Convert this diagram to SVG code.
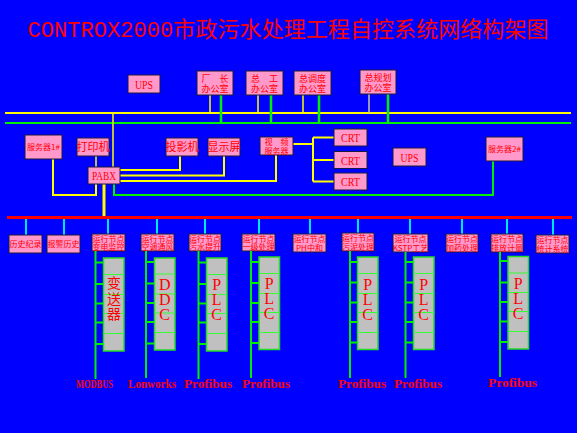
<svg xmlns="http://www.w3.org/2000/svg" width="577" height="433" viewBox="0 0 577 433">
<style>
.box{fill:#FF99CC;stroke:#1a1a40;stroke-width:1}
.gray{fill:#C0C0C0;stroke:#22DD22;stroke-width:1.5}
.inner{stroke:#33FF33;stroke-width:1}
.t{fill:#FF0000;font-family:"Noto Sans CJK SC","Liberation Sans",sans-serif;text-anchor:middle}
.s8{font-size:8px}
.s9{font-size:9px}
.s11{font-size:11px}
.lat{fill:#FF0000;font-family:"Liberation Serif","Noto Sans CJK SC",serif;text-anchor:middle;font-size:13px}
.big{fill:#FF0000;font-family:"Liberation Serif",serif;font-size:16px;writing-mode:vertical-rl;text-orientation:upright;letter-spacing:-2px}
.bigc{fill:#FF0000;font-family:"Noto Sans CJK SC",sans-serif;font-size:14px;writing-mode:vertical-rl;letter-spacing:1.5px}
.bus{fill:#FF0000;font-family:"Liberation Serif",serif;font-weight:bold;font-size:13px}
.y{stroke:#FFFF00;stroke-width:2;fill:none}
.yt{stroke:#FFFF00;stroke-width:1.5;fill:none}
.g{stroke:#00EE00;stroke-width:2;fill:none}
.c{stroke:#00E5FF;stroke-width:2;fill:none}
.r{stroke:#FF0000;stroke-width:3;fill:none}
</style>
<rect x="0" y="0" width="577" height="433" fill="#0000FF"/>
<text id="title" x="288" y="37" textLength="521" lengthAdjust="spacing" style="fill:#FF0000;font-family:'Liberation Mono','Noto Sans CJK SC',monospace;font-size:22px;text-anchor:middle">CONTROX2000市政污水处理工程自控系统网络构架图</text>

<g id="connectors">
  <path class="y" d="M5,113 H571"/>
  <path class="g" d="M5,123 H571"/>
  <path class="yt" d="M210,95 V113 M258,95 V113 M303,95 V113"/>
  <path d="M369,94 V113" stroke="#C8C8A0" stroke-width="1.5"/>
  <path class="g" d="M221,95 V123 M271,95 V123 M319,95 V123 M388,94 V123" style="stroke-width:2.5"/>
  <path class="yt" d="M113,113 V167"/>
  <path class="yt" d="M96,156 V167"/>
  <path class="y" d="M53,159 V195 H96 V184"/>
  <path class="y" d="M104,184 V217" style="stroke-width:3"/>
  <path class="y" d="M120,170 H180 V156"/>
  <path class="y" d="M120,175.5 H224 V156"/>
  <path class="y" d="M120,181 H276 V155"/>
  <path class="y" d="M293,144 H313 M313,137.5 V181.5 M313,137.5 H334 M313,160 H334 M313,181.5 H334"/>
  <path class="g" d="M114,184 V195 H493 V161"/>
  <path class="r" d="M7,217.5 H572"/>
  <path class="c" d="M26,219 V235 M64,219 V235 M108,219 V234 M157,219 V234 M205,219 V234 M259,219 V234 M310,219 V234 M358,219 V233 M410,219 V234 M462,219 V234 M507,219 V234 M553,219 V235"/>
</g>

<g id="ups1"><rect class="box" x="128" y="75" width="32" height="18"/><text class="lat" x="144" y="88.5" textLength="18" lengthAdjust="spacingAndGlyphs">UPS</text></g>
<g id="office1"><rect class="box" x="197" y="71" width="36" height="24"/><text class="t s9" x="215" y="81.5">厂　长<tspan x="215" dy="10">办公室</tspan></text></g>
<g id="office2"><rect class="box" x="246" y="71" width="37" height="24"/><text class="t s9" x="264.5" y="81.5">总　工<tspan x="264.5" dy="10">办公室</tspan></text></g>
<g id="office3"><rect class="box" x="294" y="71" width="37" height="24"/><text class="t s9" x="312.5" y="81.5">总调度<tspan x="312.5" dy="10">办公室</tspan></text></g>
<g id="office4"><rect class="box" x="360" y="70" width="36" height="24"/><text class="t s9" x="378" y="80.5">总规划<tspan x="378" dy="10">办公室</tspan></text></g>

<g id="server1"><rect class="box" x="25" y="135" width="37" height="24"/><text class="t s8" x="43.5" y="150">服务器1#</text></g>
<g id="printer"><rect class="box" x="77" y="138" width="32" height="18"/><text class="t s11" x="93" y="151">打印机</text></g>
<g id="pabx"><rect class="box" x="88" y="167" width="32" height="17"/><text class="lat" x="104" y="180" textLength="24" lengthAdjust="spacingAndGlyphs">PABX</text></g>
<g id="projector"><rect class="box" x="166" y="138" width="32" height="18"/><text class="t s11" x="182" y="151">投影机</text></g>
<g id="screen"><rect class="box" x="208" y="138" width="32" height="18"/><text class="t s11" x="224" y="151">显示屏</text></g>
<g id="video"><rect class="box" x="260" y="137" width="33" height="18"/><text class="t s8" x="276.5" y="145">视　频<tspan x="276.5" dy="8.5">服务器</tspan></text></g>
<g id="crt1"><rect class="box" x="334" y="129" width="33" height="17"/><text class="lat" x="350.5" y="142" textLength="19" lengthAdjust="spacingAndGlyphs">CRT</text></g>
<g id="crt2"><rect class="box" x="334" y="151.5" width="33" height="17"/><text class="lat" x="350.5" y="164.5" textLength="19" lengthAdjust="spacingAndGlyphs">CRT</text></g>
<g id="crt3"><rect class="box" x="334" y="173" width="33" height="17"/><text class="lat" x="350.5" y="186" textLength="19" lengthAdjust="spacingAndGlyphs">CRT</text></g>
<g id="ups2"><rect class="box" x="393" y="148" width="33" height="18"/><text class="lat" x="409.5" y="161.5" textLength="18" lengthAdjust="spacingAndGlyphs">UPS</text></g>
<g id="server2"><rect class="box" x="486" y="137" width="37" height="24"/><text class="t s8" x="504.5" y="152">服务器2#</text></g>

<g id="hist"><rect class="box" x="9" y="235" width="33" height="18"/><text class="t s8" x="25.5" y="247">历史纪录</text></g>
<g id="alarm"><rect class="box" x="47" y="235" width="33" height="18"/><text class="t s8" x="63.5" y="247">报警历史</text></g>
<g id="n1"><rect class="box" x="92" y="234" width="33" height="17"/><text class="t s8" x="108.5" y="242">运行节点<tspan x="108.5" dy="8">变电监控</tspan></text></g>
<g id="n2"><rect class="box" x="141" y="234" width="33" height="17"/><text class="t s8" x="157.5" y="242">运行节点<tspan x="157.5" dy="8">空调通风</tspan></text></g>
<g id="n3"><rect class="box" x="189" y="234" width="32" height="17"/><text class="t s8" x="205" y="242">运行节点<tspan x="205" dy="8">污水提升</tspan></text></g>
<g id="n4"><rect class="box" x="242" y="234" width="33" height="17"/><text class="t s8" x="258.5" y="242">运行节点<tspan x="258.5" dy="8">一级处理</tspan></text></g>
<g id="n5"><rect class="box" x="293" y="234" width="33" height="18"/><text class="t s8" x="309.5" y="242">运行节点<tspan x="309.5" dy="8.5">PH中和</tspan></text></g>
<g id="n6"><rect class="box" x="342" y="233" width="32" height="18"/><text class="t s8" x="358" y="241">运行节点<tspan x="358" dy="8.5">污泥处理</tspan></text></g>
<g id="n7"><rect class="box" x="393" y="234" width="35" height="18"/><text class="t s8" x="410.5" y="242">运行节点<tspan x="410.5" dy="8.5">KSTP工艺</tspan></text></g>
<g id="n8"><rect class="box" x="446" y="234" width="32" height="18"/><text class="t s8" x="462" y="242">运行节点<tspan x="462" dy="8.5">加药处理</tspan></text></g>
<g id="n9"><rect class="box" x="491" y="234" width="32" height="18"/><text class="t s8" x="507" y="242">运行节点<tspan x="507" dy="8.5">排放计量</tspan></text></g>
<g id="n10"><rect class="box" x="536" y="235" width="33" height="18"/><text class="t s8" x="552.5" y="243">运行节点<tspan x="552.5" dy="8.5">统计系统</tspan></text></g>

<g id="col1">
  <path class="g" d="M95.5,251 V379 M95.5,262.5 H103.5 M95.5,284 H103.5 M95.5,303.5 H103.5 M95.5,322.5 H103.5 M95.5,344 H103.5"/>
  <rect class="gray" x="103.5" y="258" width="20.5" height="93"/>
  <path class="inner" d="M103.5,274.5 H124 M103.5,294.5 H124 M103.5,313.5 H124 M103.5,333.5 H124"/>
  <text class="bigc" x="114" y="276">变送器</text>
</g>
<g id="col2">
  <path class="g" d="M146,251 V378 M146,262 H154.5 M146,283.5 H154.5 M146,303 H154.5 M146,322 H154.5 M146,343.5 H154.5"/>
  <rect class="gray" x="154.5" y="258" width="20.5" height="92"/>
  <path class="inner" d="M154.5,274 H175 M154.5,294 H175 M154.5,313 H175 M154.5,332.5 H175"/>
  <text class="big" x="164.7" y="276">DDC</text>
</g>
<g id="col3">
  <path class="g" d="M198.5,251 V379 M198.5,262.5 H206.5 M198.5,284 H206.5 M198.5,303.5 H206.5 M198.5,322.5 H206.5 M198.5,344 H206.5"/>
  <rect class="gray" x="206.5" y="258" width="20.5" height="93"/>
  <path class="inner" d="M206.5,274.5 H227 M206.5,294.5 H227 M206.5,313.5 H227 M206.5,333.5 H227"/>
  <text class="big" x="216.7" y="276">PLC</text>
</g>
<g id="col4">
  <path class="g" d="M251,251 V378 M251,262 H259 M251,283 H259 M251,303 H259 M251,322 H259 M251,343 H259"/>
  <rect class="gray" x="259" y="257" width="20.5" height="92.5"/>
  <path class="inner" d="M259,273.5 H279.5 M259,293.5 H279.5 M259,312.5 H279.5 M259,332.5 H279.5"/>
  <text class="big" x="269.2" y="274.5">PLC</text>
</g>
<g id="col5">
  <path class="g" d="M350,251 V378 M350,262 H357.5 M350,282.5 H357.5 M350,302.5 H357.5 M350,322 H357.5 M350,342.5 H357.5"/>
  <rect class="gray" x="357.5" y="257" width="20.5" height="92.5"/>
  <path class="inner" d="M357.5,273.5 H378 M357.5,293.5 H378 M357.5,312.5 H378 M357.5,332.5 H378"/>
  <text class="big" x="367.7" y="276">PLC</text>
</g>
<g id="col6">
  <path class="g" d="M405.5,252 V378 M405.5,262 H413.5 M405.5,282.5 H413.5 M405.5,302.5 H413.5 M405.5,322 H413.5 M405.5,342.5 H413.5"/>
  <rect class="gray" x="413.5" y="257" width="20.5" height="92.5"/>
  <path class="inner" d="M413.5,273.5 H434 M413.5,293.5 H434 M413.5,312.5 H434 M413.5,332.5 H434"/>
  <text class="big" x="423.7" y="276">PLC</text>
</g>
<g id="col7">
  <path class="g" d="M500,252 V377 M500,261 H508 M500,282.5 H508 M500,302 H508 M500,321.5 H508 M500,342 H508"/>
  <rect class="gray" x="508" y="256.5" width="20.5" height="92.5"/>
  <path class="inner" d="M508,273 H528.5 M508,292.5 H528.5 M508,311.5 H528.5 M508,331.5 H528.5"/>
  <text class="big" x="518.2" y="275">PLC</text>
</g>

<g id="buslabels">
  <text class="bus" x="76" y="388" textLength="37" lengthAdjust="spacingAndGlyphs">MODBUS</text>
  <text class="bus" x="128" y="388" textLength="48" lengthAdjust="spacingAndGlyphs">Lonworks</text>
  <text class="bus" x="184" y="388" textLength="48" lengthAdjust="spacingAndGlyphs">Profibus</text>
  <text class="bus" x="242" y="388" textLength="48" lengthAdjust="spacingAndGlyphs">Profibus</text>
  <text class="bus" x="338" y="388" textLength="48" lengthAdjust="spacingAndGlyphs">Profibus</text>
  <text class="bus" x="394" y="388" textLength="48" lengthAdjust="spacingAndGlyphs">Profibus</text>
  <text class="bus" x="488" y="387" textLength="49" lengthAdjust="spacingAndGlyphs">Profibus</text>
</g>
</svg>
